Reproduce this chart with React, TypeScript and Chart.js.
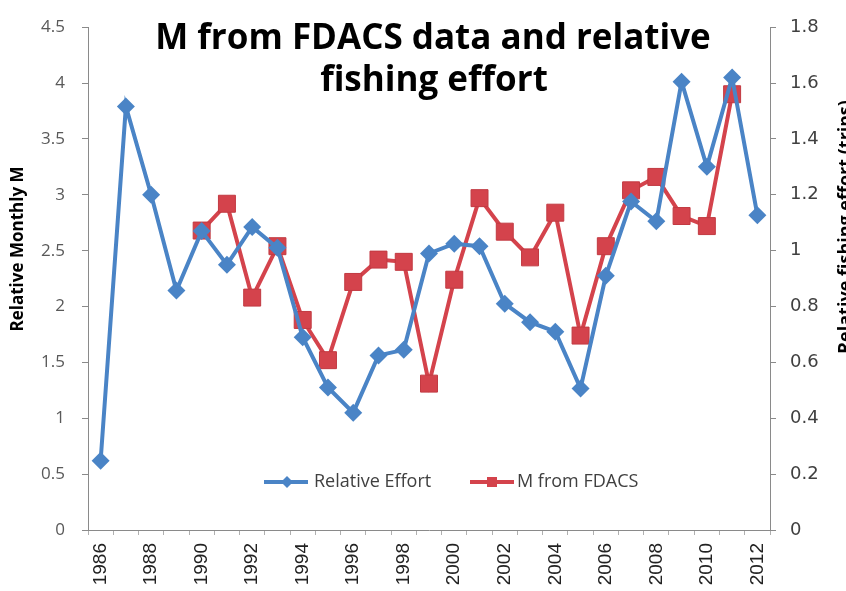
import React, { useEffect, useRef } from "react";
import { Chart, registerables } from "chart.js";

Chart.register(...registerables);

const years: string[] = [
  "1986", "1987", "1988", "1989", "1990", "1991", "1992", "1993", "1994",
  "1995", "1996", "1997", "1998", "1999", "2000", "2001", "2002", "2003",
  "2004", "2005", "2006", "2007", "2008", "2009", "2010", "2011", "2012",
];

// Relative fishing effort (trips) – right axis
const relativeEffort: number[] = [
  0.248, 1.516, 1.2, 0.857, 1.07, 0.95, 1.085, 1.01, 0.69,
  0.51, 0.42, 0.625, 0.645, 0.99, 1.025, 1.016, 0.81, 0.744,
  0.71, 0.507, 0.91, 1.176, 1.105, 1.605, 1.3, 1.62, 1.127,
];

// M from FDACS – left axis (Relative Monthly M)
const mFromFDACS: (number | null)[] = [
  null, null, null, null, 2.68, 2.92, 2.08, 2.54, 1.88,
  1.52, 2.22, 2.42, 2.4, 1.31, 2.24, 2.97, 2.67, 2.44,
  2.84, 1.74, 2.54, 3.04, 3.16, 2.81, 2.72, 3.9, null,
];

const titleLines: string[] = ["M from FDACS data and relative", "fishing effort"];
const leftAxisTitle = "Relative Monthly M";
const rightAxisTitle = "Relative fishing effort (trips)";
const legendLabels: string[] = ["Relative Effort", "M from FDACS"];

const BLUE = "#4a84c6";
const RED = "#d4434c";
const RED_BORDER = "#c23a42";
const AXIS = "#8a8a8a";

const overlayPlugin = {
  id: "overlay",
  afterDraw(chart: any) {
    const ctx: CanvasRenderingContext2D = chart.ctx;
    const area = chart.chartArea;
    const cx = (area.left + area.right) / 2;
    ctx.save();
    // Title
    ctx.fillStyle = "#000000";
    ctx.font = "bold 35px 'Open Sans'";
    ctx.textAlign = "center";
    ctx.textBaseline = "middle";
    ctx.fillText(titleLines[0], cx + 4, 39);
    ctx.fillText(titleLines[1], cx + 5, 81);

    // Left axis title
    ctx.save();
    ctx.translate(18, 249);
    ctx.rotate(-Math.PI / 2);
    ctx.font = "bold 17px 'Open Sans'";
    ctx.fillStyle = "#000000";
    ctx.textAlign = "center";
    ctx.textBaseline = "middle";
    ctx.fillText(leftAxisTitle, 0, 0);
    ctx.restore();

    // Right axis title (clipped by canvas edge)
    ctx.save();
    ctx.translate(851, 227);
    ctx.rotate(-Math.PI / 2);
    ctx.font = "bold 18px 'Open Sans'";
    ctx.fillStyle = "#000000";
    ctx.textAlign = "center";
    ctx.textBaseline = "alphabetic";
    ctx.fillText(rightAxisTitle, 0, 0);
    ctx.restore();

    // Legend
    const ly = 482;
    ctx.font = "18px 'Open Sans'";
    ctx.textAlign = "left";
    ctx.textBaseline = "middle";
    // blue
    ctx.strokeStyle = BLUE;
    ctx.lineWidth = 4;
    ctx.beginPath();
    ctx.moveTo(264, ly);
    ctx.lineTo(308, ly);
    ctx.stroke();
    ctx.fillStyle = BLUE;
    ctx.beginPath();
    ctx.moveTo(287, ly - 6);
    ctx.lineTo(293, ly);
    ctx.lineTo(287, ly + 6);
    ctx.lineTo(281, ly);
    ctx.closePath();
    ctx.fill();
    ctx.fillStyle = "#404040";
    ctx.fillText(legendLabels[0], 314, ly);
    // red
    ctx.strokeStyle = RED;
    ctx.beginPath();
    ctx.moveTo(470, ly);
    ctx.lineTo(514, ly);
    ctx.stroke();
    ctx.fillStyle = RED;
    ctx.fillRect(487, ly - 5, 10, 10);
    ctx.fillStyle = "#404040";
    ctx.fillText(legendLabels[1], 517, ly);
    ctx.restore();
  },
};

export default function App() {
  const canvasRef = useRef<HTMLCanvasElement | null>(null);

  useEffect(() => {
    document.body.style.margin = "0";
    const canvas = canvasRef.current;
    if (!canvas) return;
    const chart = new Chart(canvas, {
      type: "line",
      data: {
        labels: years,
        datasets: [
          {
            label: legendLabels[0],
            data: relativeEffort,
            yAxisID: "y1",
            borderColor: BLUE,
            backgroundColor: BLUE,
            borderWidth: 4,
            pointStyle: "rectRot",
            pointRadius: 9,
            pointBorderWidth: 0,
            pointBackgroundColor: BLUE,
            tension: 0,
          },
          {
            label: legendLabels[1],
            data: mFromFDACS,
            yAxisID: "y",
            borderColor: RED,
            backgroundColor: RED,
            borderWidth: 4,
            pointStyle: "rect",
            pointRadius: 12,
            pointBorderWidth: 1,
            pointBorderColor: RED_BORDER,
            pointBackgroundColor: RED,
            tension: 0,
            spanGaps: false,
          },
        ],
      },
      options: {
        animation: false,
        responsive: false,
        maintainAspectRatio: false,
        layout: { padding: { top: 22, left: 0, right: 0, bottom: 0 } },
        plugins: {
          legend: { display: false },
          title: { display: false },
          tooltip: { enabled: false },
        },
        scales: {
          x: {
            type: "category",
            offset: true,
            grid: {
              display: true,
              offset: true,
              drawOnChartArea: false,
              drawTicks: true,
              tickLength: 5,
              color: "#b0b0b0",
            },
            border: { display: true, color: AXIS, width: 1 },
            ticks: {
              autoSkip: false,
              minRotation: 90,
              maxRotation: 90,
              padding: 8,
              color: "#222222",
              font: { family: "Liberation Sans", size: 19 },
              callback: (_v: any, i: number) => (i % 2 === 0 ? years[i] : ""),
            },
            afterFit: (s: any) => {
              s.height = 61;
            },
          },
          y: {
            position: "left",
            min: 0,
            max: 4.5,
            grid: {
              drawOnChartArea: false,
              drawTicks: true,
              tickLength: 6,
              color: AXIS,
            },
            border: { display: true, color: AXIS, width: 1 },
            ticks: {
              stepSize: 0.5,
              padding: 17,
              color: "#595959",
              font: { family: "Open Sans", size: 17 },
              callback: (v: any) => String(+Number(v).toFixed(2)),
            },
            afterFit: (s: any) => {
              s.width = 88;
            },
          },
          y1: {
            position: "right",
            min: 0,
            max: 1.8,
            grid: {
              drawOnChartArea: false,
              drawTicks: true,
              tickLength: 6,
              color: AXIS,
            },
            border: { display: true, color: AXIS, width: 1 },
            ticks: {
              stepSize: 0.2,
              padding: 14,
              color: "#404040",
              font: { family: "DejaVu Sans", size: 18 },
              callback: (v: any) => String(+Number(v).toFixed(2)),
            },
            afterFit: (s: any) => {
              s.width = 76;
            },
          },
        },
      },
      plugins: [overlayPlugin],
    });
    return () => chart.destroy();
  }, []);

  return (
    <div style={{ position: "absolute", left: 0, top: 0, width: 846, height: 591, background: "#ffffff" }}>
      <canvas ref={canvasRef} width={846} height={591} style={{ display: "block" }} />
    </div>
  );
}
